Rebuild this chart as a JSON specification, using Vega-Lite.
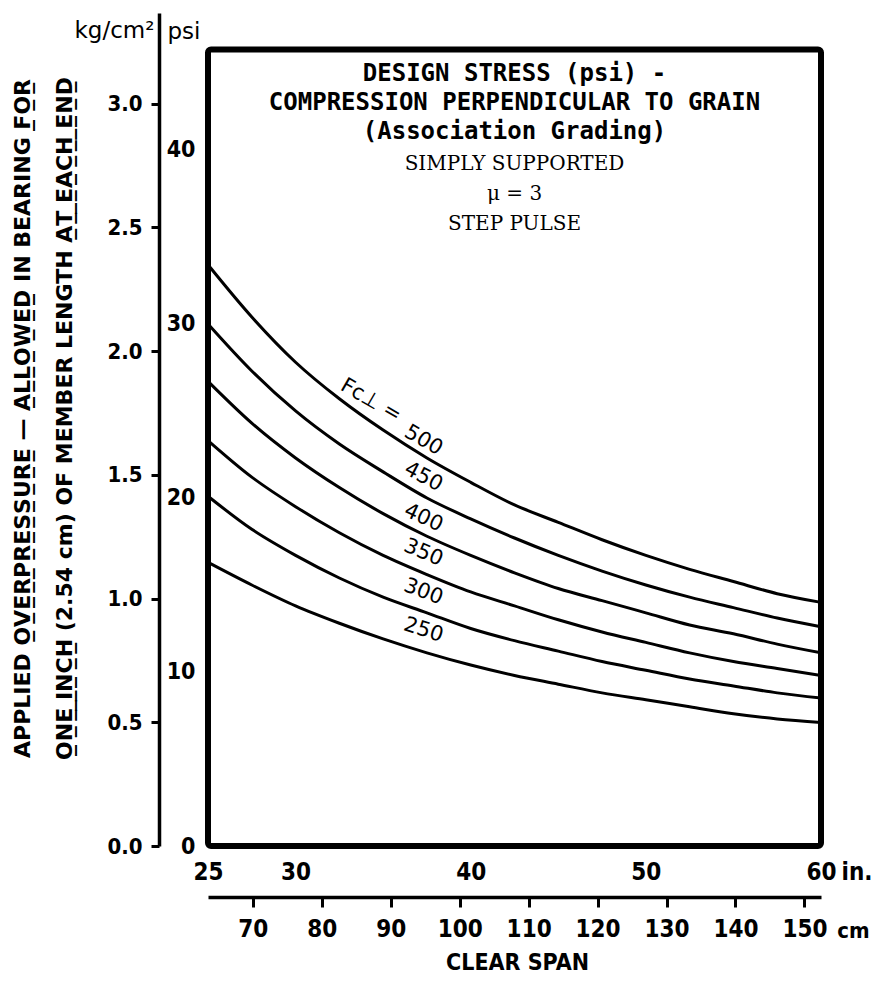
{
  "$schema": "https://vega.github.io/schema/vega-lite/v6.json",
  "width": 613,
  "height": 833,
  "autosize": "none",
  "padding": {"left": 208, "top": 13, "right": 62, "bottom": 135},
  "background": "white",
  "config": {"view": {"stroke": null}, "axis": {"grid": false, "labelColor": "black", "titleColor": "black", "domainColor": "black", "tickColor": "black"}},
  "title": {
    "text": ["DESIGN STRESS (psi) -", "COMPRESSION PERPENDICULAR TO GRAIN", "(Association Grading)"],
    "subtitle": ["SIMPLY SUPPORTED", "μ = 3", "STEP PULSE"],
    "anchor": "middle",
    "frame": "group",
    "font": "DejaVu Sans Mono",
    "fontSize": 24,
    "fontWeight": "bold",
    "lineHeight": 29,
    "color": "black",
    "subtitleFont": "DejaVu Serif",
    "subtitleFontSize": 20,
    "subtitleLineHeight": 30,
    "subtitleColor": "black",
    "subtitlePadding": 10,
    "offset": -221
  },
  "datasets": {
    "frame": [{"cm_start": 63.5, "cm_end": 152.4, "kg_bottom": 0, "kg_top": 3.218}],
    "curves": [
      {"F": 500, "span_in": 25, "psi": 33.4}, {"F": 500, "span_in": 27.5, "psi": 30.4}, {"F": 500, "span_in": 30, "psi": 27.8}, {"F": 500, "span_in": 32.5, "psi": 25.7}, {"F": 500, "span_in": 35, "psi": 23.9}, {"F": 500, "span_in": 37.5, "psi": 22.3}, {"F": 500, "span_in": 40, "psi": 20.9}, {"F": 500, "span_in": 42.5, "psi": 19.6}, {"F": 500, "span_in": 45, "psi": 18.6}, {"F": 500, "span_in": 47.5, "psi": 17.6}, {"F": 500, "span_in": 50, "psi": 16.7}, {"F": 500, "span_in": 52.5, "psi": 15.9}, {"F": 500, "span_in": 55, "psi": 15.2}, {"F": 500, "span_in": 57.5, "psi": 14.5}, {"F": 500, "span_in": 60, "psi": 14.0},
      {"F": 450, "span_in": 25, "psi": 30.0}, {"F": 450, "span_in": 27.5, "psi": 27.3}, {"F": 450, "span_in": 30, "psi": 25.0}, {"F": 450, "span_in": 32.5, "psi": 23.1}, {"F": 450, "span_in": 35, "psi": 21.5}, {"F": 450, "span_in": 37.5, "psi": 20.0}, {"F": 450, "span_in": 40, "psi": 18.8}, {"F": 450, "span_in": 42.5, "psi": 17.7}, {"F": 450, "span_in": 45, "psi": 16.7}, {"F": 450, "span_in": 47.5, "psi": 15.8}, {"F": 450, "span_in": 50, "psi": 15.0}, {"F": 450, "span_in": 52.5, "psi": 14.3}, {"F": 450, "span_in": 55, "psi": 13.7}, {"F": 450, "span_in": 57.5, "psi": 13.1}, {"F": 450, "span_in": 60, "psi": 12.6},
      {"F": 400, "span_in": 25, "psi": 26.7}, {"F": 400, "span_in": 27.5, "psi": 24.3}, {"F": 400, "span_in": 30, "psi": 22.3}, {"F": 400, "span_in": 32.5, "psi": 20.6}, {"F": 400, "span_in": 35, "psi": 19.1}, {"F": 400, "span_in": 37.5, "psi": 17.8}, {"F": 400, "span_in": 40, "psi": 16.7}, {"F": 400, "span_in": 42.5, "psi": 15.7}, {"F": 400, "span_in": 45, "psi": 14.8}, {"F": 400, "span_in": 47.5, "psi": 14.1}, {"F": 400, "span_in": 50, "psi": 13.4}, {"F": 400, "span_in": 52.5, "psi": 12.7}, {"F": 400, "span_in": 55, "psi": 12.2}, {"F": 400, "span_in": 57.5, "psi": 11.6}, {"F": 400, "span_in": 60, "psi": 11.1},
      {"F": 350, "span_in": 25, "psi": 23.3}, {"F": 350, "span_in": 27.5, "psi": 21.2}, {"F": 350, "span_in": 30, "psi": 19.5}, {"F": 350, "span_in": 32.5, "psi": 18.0}, {"F": 350, "span_in": 35, "psi": 16.7}, {"F": 350, "span_in": 37.5, "psi": 15.6}, {"F": 350, "span_in": 40, "psi": 14.6}, {"F": 350, "span_in": 42.5, "psi": 13.8}, {"F": 350, "span_in": 45, "psi": 13.0}, {"F": 350, "span_in": 47.5, "psi": 12.3}, {"F": 350, "span_in": 50, "psi": 11.7}, {"F": 350, "span_in": 52.5, "psi": 11.1}, {"F": 350, "span_in": 55, "psi": 10.6}, {"F": 350, "span_in": 57.5, "psi": 10.2}, {"F": 350, "span_in": 60, "psi": 9.8},
      {"F": 300, "span_in": 25, "psi": 20.1}, {"F": 300, "span_in": 27.5, "psi": 18.2}, {"F": 300, "span_in": 30, "psi": 16.7}, {"F": 300, "span_in": 32.5, "psi": 15.4}, {"F": 300, "span_in": 35, "psi": 14.3}, {"F": 300, "span_in": 37.5, "psi": 13.4}, {"F": 300, "span_in": 40, "psi": 12.5}, {"F": 300, "span_in": 42.5, "psi": 11.8}, {"F": 300, "span_in": 45, "psi": 11.2}, {"F": 300, "span_in": 47.5, "psi": 10.6}, {"F": 300, "span_in": 50, "psi": 10.1}, {"F": 300, "span_in": 52.5, "psi": 9.6}, {"F": 300, "span_in": 55, "psi": 9.2}, {"F": 300, "span_in": 57.5, "psi": 8.8}, {"F": 300, "span_in": 60, "psi": 8.5},
      {"F": 250, "span_in": 25, "psi": 16.3}, {"F": 250, "span_in": 27.5, "psi": 15.0}, {"F": 250, "span_in": 30, "psi": 13.8}, {"F": 250, "span_in": 32.5, "psi": 12.8}, {"F": 250, "span_in": 35, "psi": 11.9}, {"F": 250, "span_in": 37.5, "psi": 11.1}, {"F": 250, "span_in": 40, "psi": 10.4}, {"F": 250, "span_in": 42.5, "psi": 9.8}, {"F": 250, "span_in": 45, "psi": 9.3}, {"F": 250, "span_in": 47.5, "psi": 8.8}, {"F": 250, "span_in": 50, "psi": 8.4}, {"F": 250, "span_in": 52.5, "psi": 8.0}, {"F": 250, "span_in": 55, "psi": 7.6}, {"F": 250, "span_in": 57.5, "psi": 7.3}, {"F": 250, "span_in": 60, "psi": 7.1}
    ],
    "labels": [
      {"F": 500, "label": "Fc⊥ =", "span_in": 34.3, "psi": 25.6},
      {"F": 500, "label": "500", "span_in": 37.3, "psi": 23.3},
      {"F": 450, "label": "450", "span_in": 37.3, "psi": 21.2},
      {"F": 400, "label": "400", "span_in": 37.3, "psi": 18.85},
      {"F": 350, "label": "350", "span_in": 37.3, "psi": 16.85},
      {"F": 300, "label": "300", "span_in": 37.3, "psi": 14.6},
      {"F": 250, "label": "250", "span_in": 37.3, "psi": 12.4}
    ]
  },
  "layer": [
    {
      "data": {"name": "frame"},
      "mark": {"type": "rect", "fillOpacity": 0, "stroke": "black", "strokeWidth": 6, "cornerRadius": 3},
      "encoding": {
        "x": {
          "field": "cm_start", "type": "quantitative",
          "scale": {"domain": [63.5, 152.4], "nice": false, "zero": false},
          "axis": {
            "orient": "bottom", "offset": 51,
            "values": [70, 80, 90, 100, 110, 120, 130, 140, 150], "format": "d",
            "domain": true, "domainWidth": 3.5, "ticks": true, "tickSize": 10, "tickWidth": 3,
            "labelPadding": 22, "labelBaseline": "middle", "labelFlush": false, "labelOverlap": false,
            "labelFont": "DejaVu Sans Condensed", "labelFontSize": 24, "labelFontWeight": "bold",
            "title": "CLEAR SPAN", "titleX": 309, "titleY": 65, "titleAlign": "center", "titleBaseline": "middle", "titleAngle": 0,
            "titleFont": "DejaVu Sans Condensed", "titleFontSize": 23, "titleFontWeight": "bold"
          }
        },
        "x2": {"field": "cm_end"},
        "y": {
          "field": "kg_bottom", "type": "quantitative",
          "scale": {"domain": [0, 3.3657], "nice": false, "zero": false},
          "axis": {
            "orient": "left", "offset": 49,
            "values": [0, 0.5, 1, 1.5, 2, 2.5, 3], "format": ".1f",
            "domain": true, "domainWidth": 3.5, "ticks": true, "tickSize": 8, "tickWidth": 3,
            "labelPadding": 9, "labelFlush": false, "labelOverlap": false,
            "labelFont": "DejaVu Sans Condensed", "labelFontSize": 22, "labelFontWeight": "bold",
            "title": "kg/cm²", "titleAngle": 0, "titleX": -45, "titleY": 17, "titleAlign": "center", "titleBaseline": "middle",
            "titleFont": "DejaVu Sans", "titleFontSize": 23, "titleFontWeight": "normal"
          }
        },
        "y2": {"field": "kg_top"}
      }
    },
    {
      "data": {"name": "curves"},
      "mark": {"type": "line", "stroke": "black", "strokeWidth": 3, "interpolate": "monotone"},
      "encoding": {
        "x": {
          "field": "span_in", "type": "quantitative",
          "scale": {"domain": [25, 60], "nice": false, "zero": false},
          "axis": {
            "orient": "bottom", "values": [25, 30, 40, 50, 60],
            "domain": false, "ticks": false, "tickSize": 0,
            "labelPadding": 26, "labelBaseline": "middle", "labelFlush": false, "labelOverlap": false,
            "labelFont": "DejaVu Sans Condensed", "labelFontSize": 24, "labelFontWeight": "bold",
            "title": "in.", "titleX": 633, "titleY": 26, "titleAlign": "left", "titleBaseline": "middle", "titleAngle": 0,
            "titleFont": "DejaVu Sans Condensed", "titleFontSize": 24, "titleFontWeight": "bold"
          }
        },
        "y": {
          "field": "psi", "type": "quantitative",
          "scale": {"domain": [0, 47.87], "nice": false, "zero": false},
          "axis": {
            "orient": "left", "values": [0, 10, 20, 30, 40],
            "domain": false, "ticks": false, "tickSize": 0,
            "labelPadding": 13, "labelFlush": false, "labelOverlap": false,
            "labelFont": "DejaVu Sans Condensed", "labelFontSize": 23, "labelFontWeight": "bold",
            "title": "psi", "titleAngle": 0, "titleX": -41, "titleY": 18, "titleAlign": "left", "titleBaseline": "middle",
            "titleFont": "DejaVu Sans", "titleFontSize": 23, "titleFontWeight": "normal"
          }
        },
        "detail": {"field": "F", "type": "nominal"}
      }
    },
    {
      "data": {"name": "labels"},
      "mark": {"type": "text", "font": "DejaVu Sans", "fontSize": 21, "color": "black", "align": "center", "baseline": "middle"},
      "encoding": {
        "x": {
          "field": "span_in", "type": "quantitative",
          "scale": {"domain": [25, 60], "nice": false, "zero": false},
          "axis": {
            "orient": "bottom", "labels": false, "ticks": false, "domain": false,
            "title": "cm", "titleX": 645, "titleY": 84, "titleAlign": "center", "titleBaseline": "middle", "titleAngle": 0,
            "titleFont": "DejaVu Sans Condensed", "titleFontSize": 22, "titleFontWeight": "bold"
          }
        },
        "y": {
          "field": "psi", "type": "quantitative",
          "scale": {"domain": [0, 47.87], "nice": false, "zero": false},
          "axis": {
            "orient": "left", "labels": false, "ticks": false, "domain": false,
            "title": ["APPLIED O\u0332V\u0332E\u0332R\u0332P\u0332R\u0332E\u0332S\u0332S\u0332U\u0332R\u0332E\u0332 — A\u0332L\u0332L\u0332O\u0332W\u0332E\u0332D\u0332 IN BEARING F\u0332O\u0332R\u0332", "O\u0332N\u0332E\u0332 \u0332I\u0332N\u0332C\u0332H\u0332 (2.54 cm) OF MEMBER LENGTH A\u0332T\u0332 \u0332E\u0332A\u0332C\u0332H\u0332 \u0332E\u0332N\u0332D\u0332"],
            "titleAngle": 270, "titleX": -186, "titleY": 405, "titleAlign": "center", "titleBaseline": "middle", "titleLineHeight": 42,
            "titleFont": "DejaVu Sans", "titleFontSize": 22, "titleFontWeight": "bold"
          }
        },
        "text": {"field": "label"},
        "angle": {"field": "F", "type": "quantitative", "scale": {"domain": [250, 500], "range": [18, 30]}, "legend": null}
      }
    }
  ],
  "resolve": {
    "scale": {"x": "independent", "y": "independent"},
    "axis": {"x": "independent", "y": "independent"}
  }
}
